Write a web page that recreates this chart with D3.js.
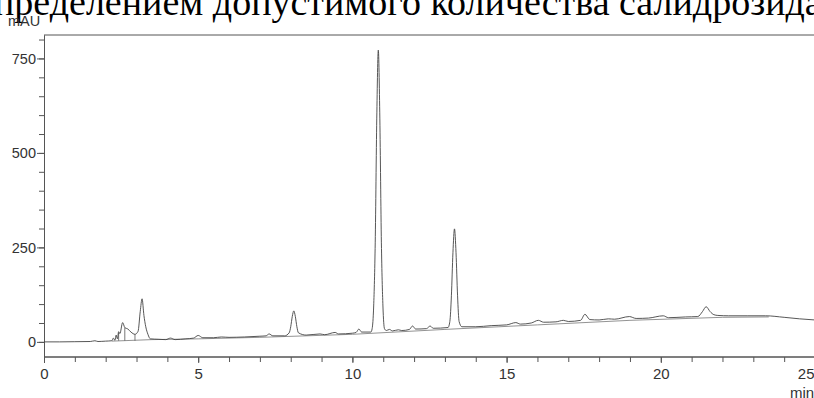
<!DOCTYPE html>
<html>
<head>
<meta charset="utf-8">
<script src="https://cdn.jsdelivr.net/npm/d3@7"></script>
<style>
  body { margin: 0; background: #fff; overflow: hidden; }
  svg { display: block; }
</style>
</head>
<body>
<div id="chart"></div>
<script>
// retention time (min) and absorbance (mAU)
const times = [0, 0.5, 1.0, 1.5, 1.65, 1.75, 2.0, 2.2, 2.25, 2.3, 2.34, 2.38, 2.42, 2.46, 2.55, 2.62, 2.72, 2.82, 2.95, 3.05, 3.12, 3.18, 3.24, 3.3, 3.37, 3.45,
  3.7, 3.95, 4.1, 4.25, 4.6, 4.85, 5.0, 5.15, 5.5, 5.75, 6.0, 6.5, 7.0, 7.2, 7.3, 7.42, 7.8, 7.95, 8.0, 8.05, 8.1, 8.15, 8.2, 8.25, 8.5,
  8.95, 9.1, 9.44, 9.55, 10.0, 10.12, 10.21, 10.3, 10.6, 10.64, 10.69, 10.74, 10.79, 10.84, 10.89, 10.94, 10.99, 11.04, 11.1, 11.2, 11.3, 11.49, 11.6,
  11.85, 11.95, 12.05, 12.4, 12.52, 12.62, 13.1, 13.16, 13.21, 13.26, 13.31, 13.36, 13.41, 13.46, 13.55, 14.0, 14.5, 15.0, 15.3, 15.45, 15.8,
  16.03, 16.2, 16.6, 16.84, 17.0, 17.4, 17.54, 17.7, 18.0, 18.3, 18.5, 18.98, 19.2, 19.6, 20.08, 20.25, 20.8, 21.2, 21.35, 21.47, 21.6, 21.72,
  21.85, 22.2, 22.8, 23.4, 24.0, 24.5, 25.0, 25.3];
const mau = [0, 0, 0.5, 1, 3, 1, 2, 3, 10, 4, 18, 8, 27, 22, 51, 38, 34, 26, 20, 28, 80, 114, 70, 40, 20, 8,
  7, 6, 10, 6, 8, 10, 17, 11, 11, 13, 12, 13, 15, 16, 21, 16, 16, 24, 40, 67, 82, 67, 40, 24, 18,
  21, 19, 25, 21, 23, 25, 34, 26, 26, 35, 95, 262, 590, 772, 590, 262, 95, 35, 30, 33, 29, 32, 30,
  33, 42, 34, 35, 42, 36, 38, 54, 122, 236, 299, 236, 122, 54, 40, 40, 43, 45, 51, 47, 50,
  57, 52, 53, 57, 54, 57, 73, 59, 58, 61, 60, 67, 62, 63, 69, 64, 66, 67, 80, 93, 80, 72,
  70, 69, 69, 69, 65, 61, 58, 57];

// integration baseline drawn under the peaks
const baseTimes = [2.2, 3.5, 5.0, 7.0, 10.0, 13.0, 16.0, 19.0, 22.0, 23.5];
const baseMau = [2, 6, 8, 12, 20, 33, 45, 57, 65, 66];

// peak separation drop lines: [time, top value]
const dropLines = [[2.42, 24], [2.62, 38], [2.95, 20]];

const xMajor = [0, 5, 10, 15, 20, 25];
const yMajor = [0, 250, 500, 750];

const width = 814, height = 398;
const plotLeft = 44, plotRight = 815, plotTop = 35, plotBottom = 357;

const svg = d3.select("#chart").append("svg")
  .attr("width", width)
  .attr("height", height);

// clipped caption line from the surrounding document
svg.append("text")
  .attr("x", -25)
  .attr("y", 14.5)
  .attr("font-family", "'Liberation Serif', 'Times New Roman', serif")
  .attr("font-size", 38)
  .attr("fill", "#000")
  .text("определением допустимого количества салидрозида");

const x = d3.scaleLinear().domain([0, 25]).range([plotLeft, plotRight]);
const y = d3.scaleLinear().domain([-40, 812]).range([plotBottom, plotTop]);

const axisFont = "'Liberation Sans', Arial, sans-serif";
const axisColor = "#555";

// top border
svg.append("line")
  .attr("x1", plotLeft).attr("x2", width)
  .attr("y1", plotTop).attr("y2", plotTop)
  .attr("stroke", axisColor).attr("stroke-width", 1);

// y axis
const yMinor = svg.append("g")
  .attr("transform", "translate(" + plotLeft + ",0)")
  .call(d3.axisLeft(y).tickValues(d3.range(0, 801, 50)).tickSize(5).tickFormat("").tickSizeOuter(0));
const yAxis = svg.append("g")
  .attr("transform", "translate(" + plotLeft + ",0)")
  .call(d3.axisLeft(y).tickValues(yMajor).tickSize(7).tickSizeOuter(0).tickPadding(1));

// x axis
const xMinor = svg.append("g")
  .attr("transform", "translate(0," + plotBottom + ")")
  .call(d3.axisBottom(x).tickValues(d3.range(0, 26, 1)).tickSize(5).tickFormat("").tickSizeOuter(0));
const xAxis = svg.append("g")
  .attr("transform", "translate(0," + plotBottom + ")")
  .call(d3.axisBottom(x).tickValues(xMajor).tickSize(6).tickSizeOuter(0).tickPadding(5));

[yMinor, yAxis, xMinor, xAxis].forEach(g => {
  g.selectAll("path").attr("stroke", axisColor);
  g.selectAll("line").attr("stroke", axisColor);
  g.selectAll("text").attr("fill", "#333").attr("font-family", axisFont);
});
yAxis.selectAll("text").attr("font-size", 14.5);
xAxis.selectAll("text").attr("font-size", 15);
// last label is pulled inside the frame
xAxis.selectAll(".tick text").filter(d => d === 25).attr("text-anchor", "end").attr("dx", -1);
xMinor.select("path").attr("d", "M" + plotLeft + ",0H" + width);
xAxis.select("path").attr("d", "M" + plotLeft + ",0H" + width);

// unit labels
svg.append("text")
  .attr("x", 8).attr("y", 26)
  .attr("font-family", axisFont).attr("font-size", 14.5)
  .attr("fill", "#333")
  .text("mAU");
svg.append("text")
  .attr("x", 790).attr("y", 398)
  .attr("font-family", axisFont).attr("font-size", 15)
  .attr("fill", "#333")
  .text("min");

const plot = svg.append("g");

// baseline
plot.append("path")
  .datum(baseTimes.map((t, i) => [t, baseMau[i]]))
  .attr("fill", "none")
  .attr("stroke", "#777")
  .attr("stroke-width", 0.8)
  .attr("d", d3.line().x(d => x(d[0])).y(d => y(d[1])));

// drop lines
plot.selectAll(".drop")
  .data(dropLines)
  .enter().append("line")
    .attr("x1", d => x(d[0])).attr("x2", d => x(d[0]))
    .attr("y1", d => y(3)).attr("y2", d => y(d[1]))
    .attr("stroke", "#555").attr("stroke-width", 0.8);

// signal
plot.append("path")
  .datum(times.map((t, i) => [t, mau[i]]))
  .attr("fill", "none")
  .attr("stroke", "#444")
  .attr("stroke-width", 0.9)
  .attr("d", d3.line().curve(d3.curveMonotoneX).x(d => x(d[0])).y(d => y(d[1])));
</script>
</body>
</html>
